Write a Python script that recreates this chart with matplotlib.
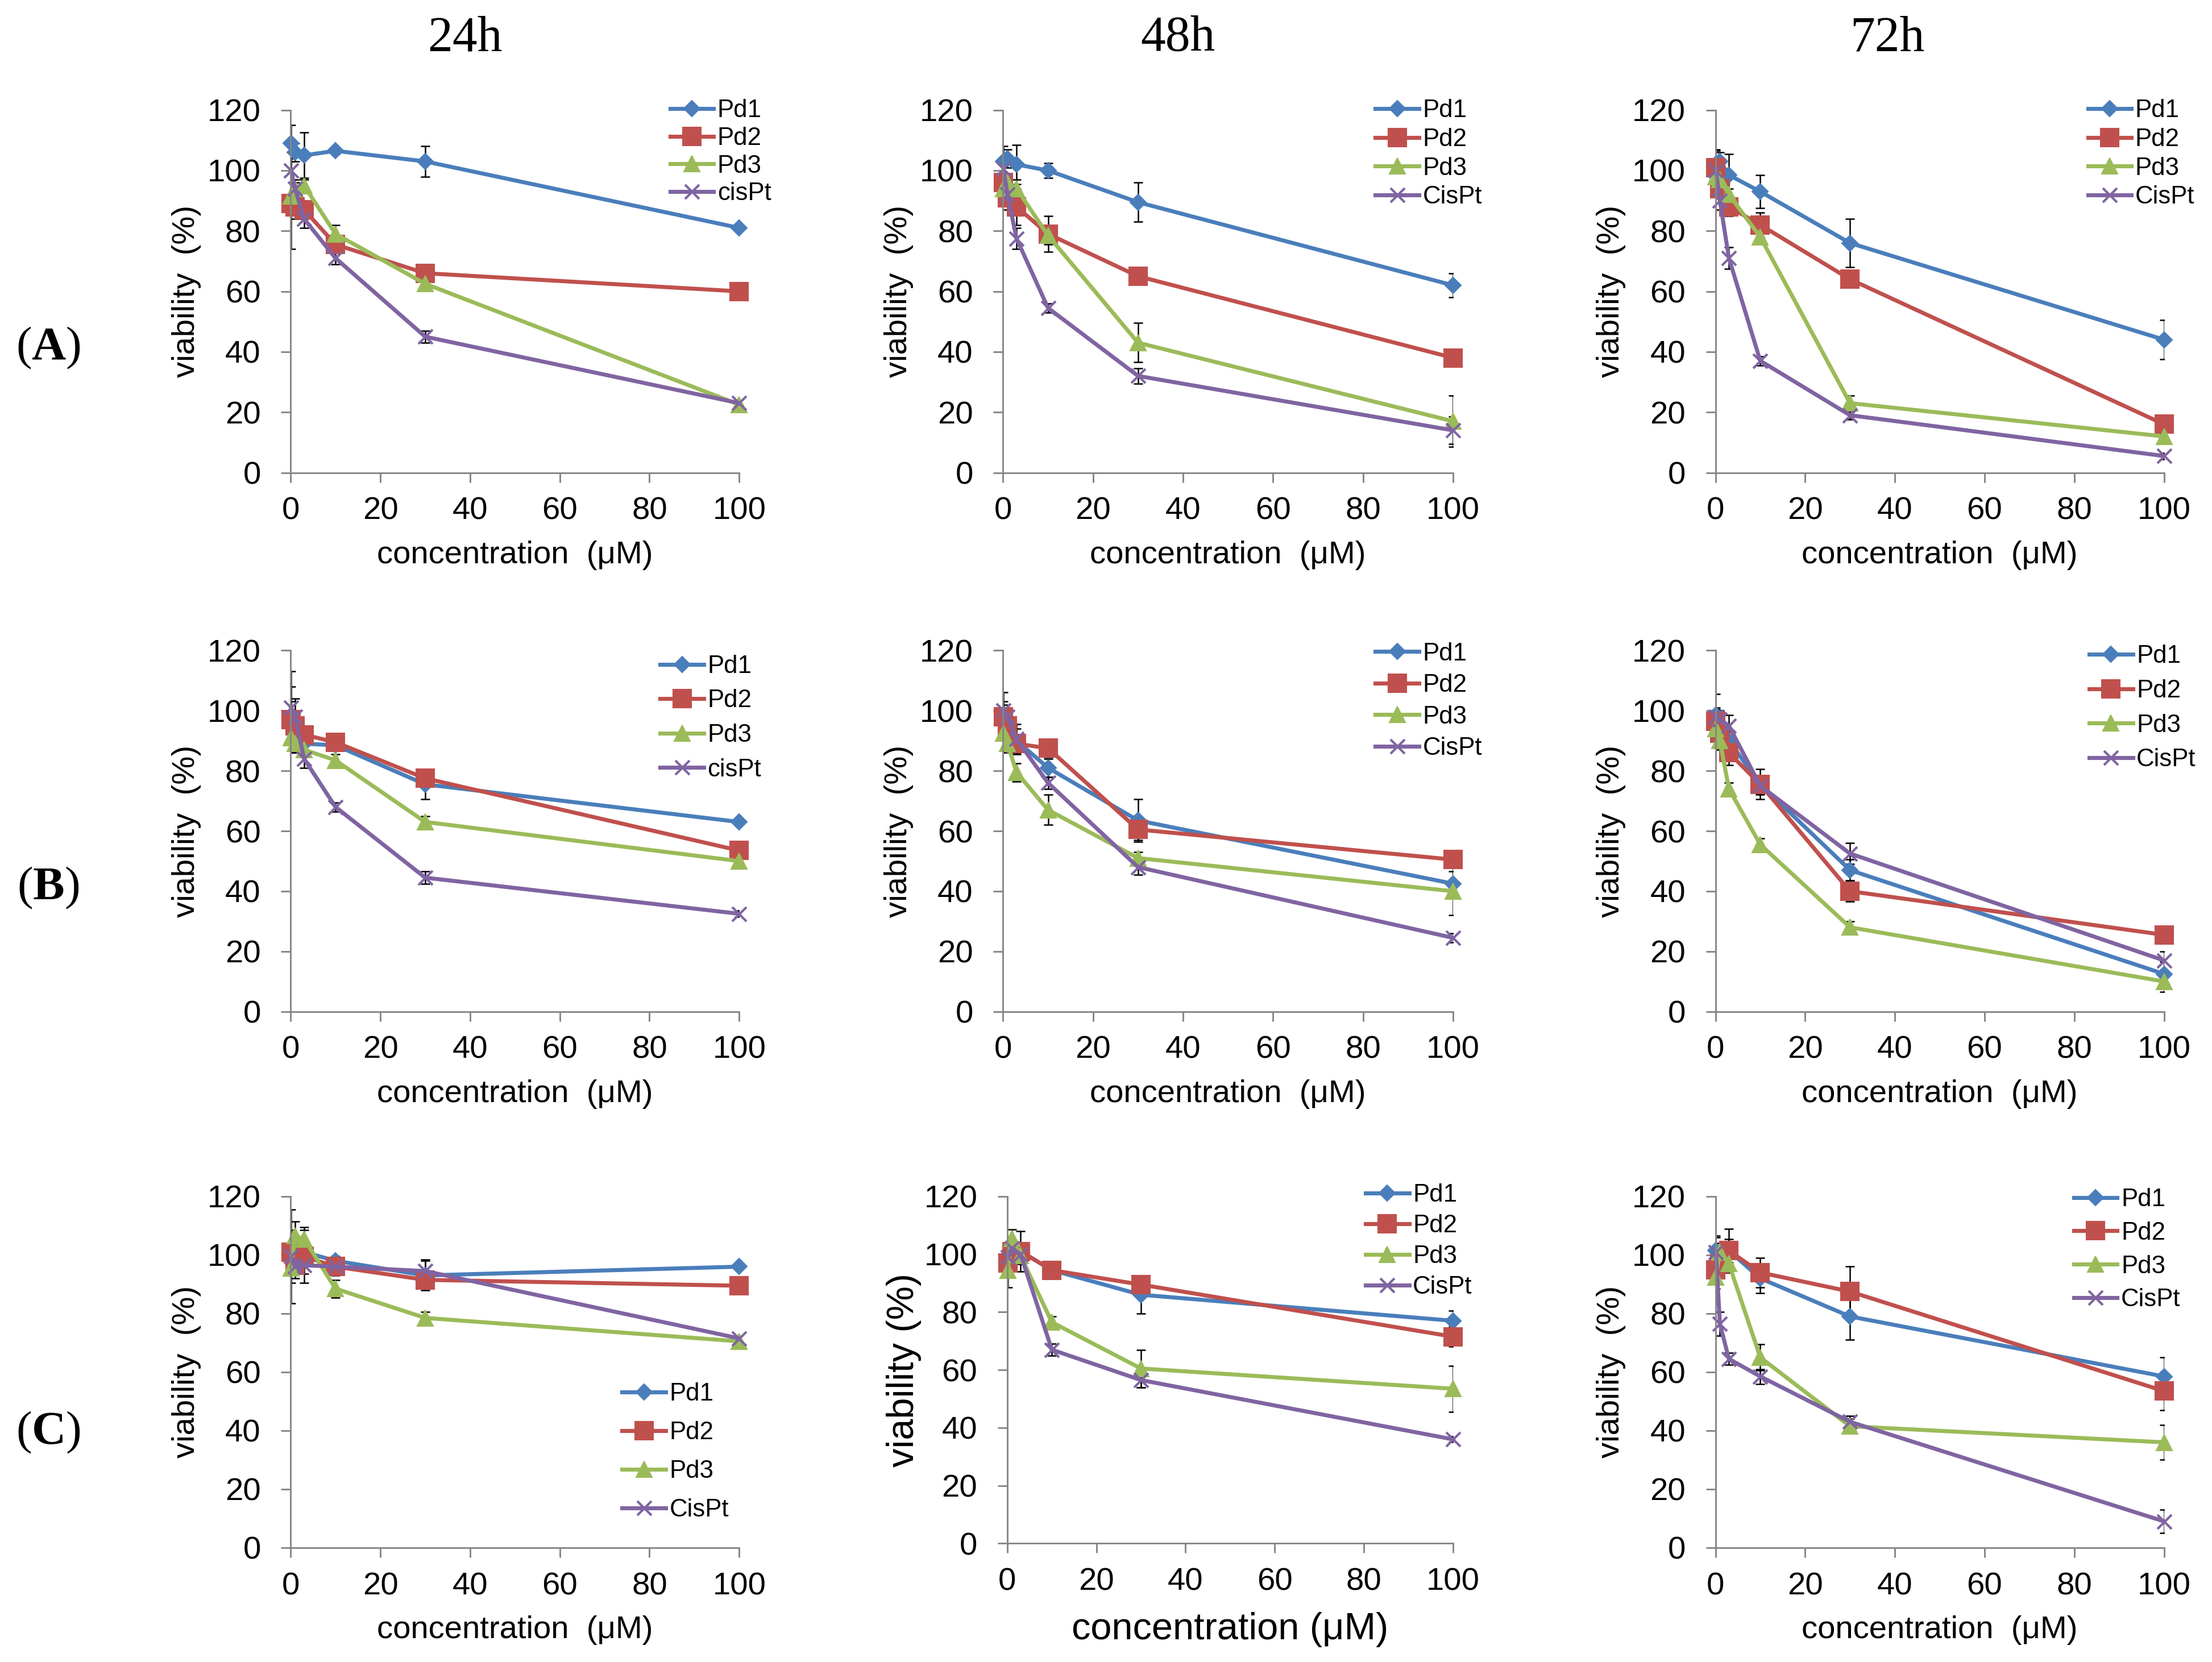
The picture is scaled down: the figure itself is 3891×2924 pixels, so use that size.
import matplotlib
matplotlib.use("Agg")
import matplotlib.pyplot as plt

plt.rcParams['font.family'] = ['Liberation Sans', 'DejaVu Sans']
plt.rcParams['mathtext.fontset'] = 'custom'
plt.rcParams['mathtext.rm'] = 'Liberation Serif'
plt.rcParams['mathtext.bf'] = 'Liberation Serif:bold'

# concentrations (uM)
conc = [0.1, 1, 3, 10, 30, 100]

# viability (%) per panel, rows = Pd1, Pd2, Pd3, cisPt
A24_mean = [[109, 106, 105, 106.5, 103, 81],
            [89, 88, 87, 75.5, 66, 60],
            [91.5, 94, 95, 79, 62.5, 22.5],
            [100, 94, 84, 71, 45, 23]]
A24_err = [[6, 3, 7.5, 1, 5, 1],
           [15, 4, 3, 2, 1.5, 1],
           [3, 2, 2, 3, 1.5, 1],
           [3, 3, 3, 2, 2, 1]]

A48_mean = [[103, 104, 102, 100, 89.5, 62],
            [96, 91, 88, 79, 65, 38],
            [94, 96, 94, 78.5, 43, 17],
            [100.5, 92, 77.5, 54.5, 32, 14]]
A48_err = [[5, 3, 6.5, 2.5, 6.5, 4],
           [3, 4, 6, 6, 1.5, 1.5],
           [3, 3, 3, 3, 6.5, 8.5],
           [2, 3, 3.5, 1.5, 2.5, 4.5]]

A72_mean = [[102, 103, 98.5, 93, 76, 44],
            [101, 94, 88, 82, 64, 16],
            [98, 97, 92, 78, 23, 12],
            [100, 90, 71, 37, 19, 5.5]]
A72_err = [[4.5, 3, 7, 5.5, 8, 6.5],
           [6, 3, 3, 4, 2.5, 1],
           [2, 2, 2, 2, 2.5, 1],
           [2, 3, 3.5, 1.5, 1.5, 1]]

B24_mean = [[96, 90, 89, 88.5, 75.5, 63],
            [97, 95, 92, 89.5, 77.5, 53.5],
            [91, 89, 87, 83.5, 63, 50],
            [101, 98, 84, 68, 44.5, 32.5]]
B24_err = [[7, 3, 3, 1.5, 5, 1],
           [11, 4, 3, 1.5, 3, 1],
           [5, 3, 2, 2, 2, 1],
           [12, 6, 3, 1.5, 2, 1]]

B48_mean = [[98, 94, 90, 81, 63.5, 42.5],
            [98, 95, 89, 87.5, 60.5, 50.5],
            [92.5, 89, 79.5, 67, 51, 40],
            [100, 98, 90.5, 76, 48, 24.5]]
B48_err = [[8, 3, 4, 3, 7, 4],
           [4, 3, 3, 3, 3.5, 1.5],
           [4, 3, 3, 5, 2, 8],
           [3, 3, 5, 2, 2.5, 1.5]]

B72_mean = [[98.5, 95, 90, 75.5, 47, 12.5],
            [96.5, 92.5, 86, 75.5, 40, 25.5],
            [94, 90, 74, 55.5, 28, 10],
            [98, 97, 95, 75, 52.5, 17]]
B72_err = [[7, 4, 3, 3, 3.5, 4],
           [4, 4, 4, 5, 3.5, 1.5],
           [3, 3, 2, 2, 2, 3.5],
           [3, 3, 3.5, 3, 3.5, 3]]

C24_mean = [[101.5, 99, 101, 98, 93, 96],
            [101, 96.5, 99.5, 96, 91.5, 89.5],
            [95.5, 106.5, 105.5, 88.5, 78.5, 70.5],
            [99.5, 96, 96.5, 96, 94.5, 71.5]]
C24_err = [[7, 3, 4, 1.5, 5, 1],
           [4, 3, 9, 3, 3, 1],
           [5, 5, 4, 3, 2, 1],
           [16, 4, 3, 2, 4, 1]]

C48_mean = [[99.5, 101, 101, 94.5, 86, 77],
            [97, 101, 101, 94.5, 89.5, 71.5],
            [94.5, 105.5, 99.5, 76.5, 60.5, 53.5],
            [99, 102, 100, 67, 56.5, 36]]
C48_err = [[5, 3, 3, 2, 6.5, 3.5],
           [4, 3, 7, 2, 3, 3.5],
           [6, 3, 3, 2, 6.5, 8],
           [3, 3, 3, 2, 2.5, 1]]

C72_mean = [[101.5, 100, 101.5, 92, 79, 58.5],
            [95, 97, 101.5, 94, 87.5, 53.5],
            [92.5, 101, 97, 65, 41.5, 36],
            [101, 76.5, 64.5, 58.5, 43, 9]]
C72_err = [[5, 3, 4, 5, 8, 6.5],
           [4, 3, 7.5, 5, 8.5, 6.5],
           [4, 3, 3, 4.5, 2.5, 6],
           [5, 4, 2, 2.5, 2, 4]]

labels_lc = ['Pd1', 'Pd2', 'Pd3', 'cisPt']
labels_uc = ['Pd1', 'Pd2', 'Pd3', 'CisPt']
col_titles = ['24h', '48h', '72h']
row_letters = ['A', 'B', 'C']

colors = ['#4A7EBB', '#C0504D', '#9BBB59', '#8064A2']
markers = ['D', 's', '^', 'x']
msizes = [4.6, 7.5, 6.8, 6.0]

# layout in units of a 1568 x 1178 preview of the figure
W, H = 1568.0, 1178.0
FIG_W, FIG_H, DPI = 3891, 2924, 300
S = FIG_W / W
PT = DPI / 72.0

fig = plt.figure(figsize=(FIG_W / DPI, FIG_H / DPI), dpi=DPI)

# (mean, err, labels, x0, x100, y120, y0, legend x, legend y, legend pitch, big labels)
panels = [
    (A24_mean, A24_err, labels_lc, 206, 524, 78, 335, 475, 76, 20.2, False),
    (A48_mean, A48_err, labels_uc, 711, 1030, 78, 335, 975, 76, 21.0, False),
    (A72_mean, A72_err, labels_uc, 1216, 1534, 78, 335, 1480, 76, 21.0, False),
    (B24_mean, B24_err, labels_lc, 206, 524, 461, 717, 468, 470, 25.0, False),
    (B48_mean, B48_err, labels_uc, 711, 1030, 461, 717, 975, 461, 23.0, False),
    (B72_mean, B72_err, labels_uc, 1216, 1534, 461, 717, 1481, 463, 25.0, False),
    (C24_mean, C24_err, labels_uc, 206, 524, 848, 1097, 441, 986, 28.0, False),
    (C48_mean, C48_err, labels_uc, 714, 1030, 848, 1094, 968, 845, 22.3, True),
    (C72_mean, C72_err, labels_uc, 1216, 1534, 848, 1097, 1470, 848, 24.3, False),
]

tick_fs = 13.5
leg_fs = 10.5
axis_gray = '#868686'

for (mean, err, labels, x0, x100, y120, y0, lx, ly, pitch, big) in panels:
    ax = fig.add_axes([x0 / W, 1 - y0 / H, (x100 - x0) / W, (y0 - y120) / H])
    ax_w = (x100 - x0) * S
    ax_h = (y0 - y120) * S

    for i in range(4):
        ax.errorbar(conc, mean[i], yerr=err[i], fmt='none', ecolor='black',
                    elinewidth=0.6, capsize=2, capthick=0.6, zorder=1.5)
        ax.plot(conc, mean[i], color=colors[i], lw=1.7, marker=markers[i],
                ms=msizes[i], mfc=colors[i], mec=colors[i],
                mew=1.0 if markers[i] == 'x' else 0.5,
                label=labels[i], clip_on=False, zorder=2 + i * 0.1)

    ax.set_xlim(0, 100)
    ax.set_ylim(0, 120)
    ax.set_xticks(range(0, 101, 20))
    ax.set_yticks(range(0, 121, 20))
    for side in ['top', 'right']:
        ax.spines[side].set_visible(False)
    for side in ['left', 'bottom']:
        ax.spines[side].set_color(axis_gray)
        ax.spines[side].set_linewidth(0.7)
    ax.tick_params(direction='out', length=4.1, width=0.7, color=axis_gray,
                   labelsize=tick_fs)
    ax.tick_params(axis='x', pad=6)
    ax.tick_params(axis='y', pad=8.5)

    if big:
        lab_fs = 16
        ax.set_ylabel('viability (%)', fontsize=lab_fs)
        ax.set_xlabel('concentration (\u03bcM)', fontsize=lab_fs)
        xl_off = 63.5
    else:
        lab_fs = tick_fs
        ax.set_ylabel('viability  (%)', fontsize=lab_fs)
        ax.set_xlabel('concentration  (\u03bcM)', fontsize=lab_fs)
        xl_off = 60.8
    fs_px = lab_fs * PT
    ax.yaxis.set_label_coords(-(76 * S - 0.56 * fs_px) / ax_w, 0.5)
    ax.xaxis.set_label_coords(0.5, -(xl_off * S - 0.56 * fs_px) / ax_h)

    # legend rows: pitch measured centre to centre in preview units
    lfs_px = leg_fs * PT
    ls = max(pitch * S / lfs_px - 0.97, 0.0)
    top_px = ly * S - 0.33 * lfs_px
    ax.legend(loc='upper left', bbox_to_anchor=(lx / W, 1 - top_px / FIG_H),
              bbox_transform=fig.transFigure, frameon=False, fontsize=leg_fs,
              handlelength=1.75, handletextpad=0.15, borderpad=0,
              borderaxespad=0, labelspacing=ls, numpoints=1)

# column titles
for title, cx in zip(col_titles, [818, 2072, 3320]):
    fig.text(cx / FIG_W, 1 - 89 / FIG_H, title, family='Liberation Serif',
             fontsize=21, ha='center', va='baseline')

# row letters
for letter, base in zip(row_letters, [632, 1582, 2540]):
    fig.text(85 / FIG_W, 1 - base / FIG_H, '(' + r'$\mathbf{' + letter + '}$' + ')',
             family='Liberation Serif', fontsize=20, ha='center', va='baseline')

fig.savefig('out.png', dpi=DPI)
